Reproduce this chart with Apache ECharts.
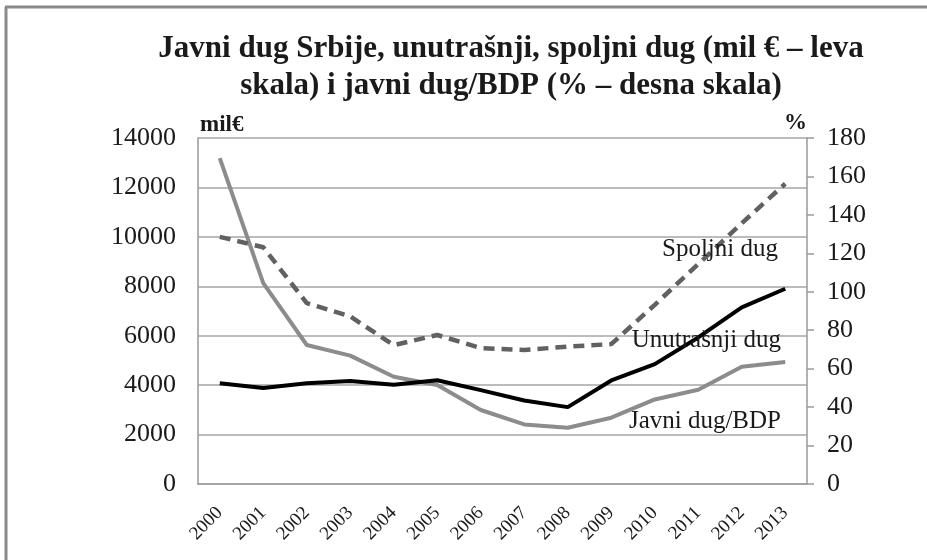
<!DOCTYPE html>
<html>
<head>
<meta charset="utf-8">
<script src="https://cdn.jsdelivr.net/npm/echarts@6/dist/echarts.min.js"></script>
<style>
  html, body { margin: 0; padding: 0; background: #fff; overflow: hidden; }
  #chart { width: 927px; height: 560px; }
</style>
</head>
<body>
<div id="chart"></div>
<script>
// godine
const years = ['2000', '2001', '2002', '2003', '2004', '2005', '2006', '2007', '2008', '2009', '2010', '2011', '2012', '2013'];

// mil € (leva skala)
const spoljniDug = [10000, 9580, 7320, 6780, 5620, 6030, 5500, 5420, 5560, 5660, 7250, 8900, 10550, 12150];
const unutrasnjiDug = [4080, 3880, 4080, 4170, 4020, 4200, 3800, 3380, 3110, 4190, 4850, 5930, 7150, 7900];

// % (desna skala)
const javniDugBdp = [169.5, 104.5, 72.3, 66.8, 55.8, 51.5, 38.5, 31, 29.3, 34.5, 44, 49, 61, 63.5];

const leftTicks = { min: 0, max: 14000, interval: 2000 };
const rightTicks = { min: 0, max: 180, interval: 20 };

const serif = '"Liberation Serif", "DejaVu Serif", serif';
const txt = '#1a1a1a';

const chartDom = document.getElementById('chart');
const chart = echarts.init(chartDom, null, { renderer: 'canvas' });

const option = {
  backgroundColor: '#fff',
  animation: false,
  title: {
    text: 'Javni dug Srbije, unutrašnji, spoljni dug (mil € – leva\nskala) i javni dug/BDP (% – desna skala)',
    left: 506,
    top: 25,
    textAlign: 'center',
    textStyle: {
      fontFamily: serif,
      fontWeight: 'bold',
      fontSize: 31,
      lineHeight: 37,
      color: txt
    }
  },
  grid: { left: 198, right: 120, top: 138, bottom: 76 },
  xAxis: {
    type: 'category',
    data: years,
    boundaryGap: true,
    axisLine: { lineStyle: { color: '#9a9a9a', width: 1.5 } },
    axisTick: { show: false },
    axisLabel: {
      rotate: 45,
      margin: 26,
      fontFamily: serif,
      fontSize: 19,
      color: txt
    }
  },
  yAxis: [
    {
      type: 'value',
      ...leftTicks,
      position: 'left',
      axisLine: { show: true, lineStyle: { color: '#9a9a9a', width: 1.5 } },
      axisTick: { show: false },
      splitLine: { show: true, lineStyle: { color: '#a6a6a6', width: 1.5 } },
      axisLabel: { margin: 22, fontFamily: serif, fontSize: 26, color: txt, formatter: (v) => String(v) }
    },
    {
      type: 'value',
      ...rightTicks,
      position: 'right',
      axisLine: { show: true, lineStyle: { color: '#9a9a9a', width: 1.5 } },
      axisTick: { show: true, length: 7, lineStyle: { color: '#9a9a9a', width: 1.5 } },
      splitLine: { show: false },
      axisLabel: { margin: 20, fontFamily: serif, fontSize: 26, color: txt }
    }
  ],
  series: [
    {
      name: 'Javni dug/BDP',
      type: 'line',
      yAxisIndex: 1,
      data: javniDugBdp,
      symbol: 'none',
      z: 2,
      lineStyle: { color: '#8c8c8c', width: 4 }
    },
    {
      name: 'Unutrašnji dug',
      type: 'line',
      yAxisIndex: 0,
      data: unutrasnjiDug,
      symbol: 'none',
      z: 4,
      lineStyle: { color: '#000', width: 4 }
    },
    {
      name: 'Spoljni dug',
      type: 'line',
      yAxisIndex: 0,
      data: spoljniDug,
      symbol: 'none',
      z: 3,
      lineStyle: { color: '#616161', width: 4.5, type: [11, 7] }
    }
  ],
  graphic: [
    {
      // okvir: leva i gornja ivica
      type: 'line',
      silent: true, z: -1,
      shape: { x1: 6, y1: 7, x2: 6, y2: 560 },
      style: { stroke: '#8a8a8a', lineWidth: 3 }
    },
    {
      type: 'line',
      silent: true, z: -1,
      shape: { x1: 5, y1: 7, x2: 927, y2: 7 },
      style: { stroke: '#8a8a8a', lineWidth: 3 }
    },
    {
      type: 'text', left: 200, top: 114, z: 10,
      style: { text: 'mil€', font: 'bold 23px ' + serif, fill: txt }
    },
    {
      type: 'text', left: 784, top: 112, z: 10,
      style: { text: '%', font: 'bold 23px ' + serif, fill: txt }
    },
    {
      type: 'text', right: 149, top: 237, z: 10,
      style: { text: 'Spoljni dug', font: '25px ' + serif, fill: txt }
    },
    {
      type: 'text', right: 146, top: 328, z: 10,
      style: { text: 'Unutrašnji dug', font: '25px ' + serif, fill: txt }
    },
    {
      type: 'text', right: 146, top: 409, z: 10,
      style: { text: 'Javni dug/BDP', font: '25px ' + serif, fill: txt }
    }
  ]
};

chart.setOption(option);
</script>
</body>
</html>
